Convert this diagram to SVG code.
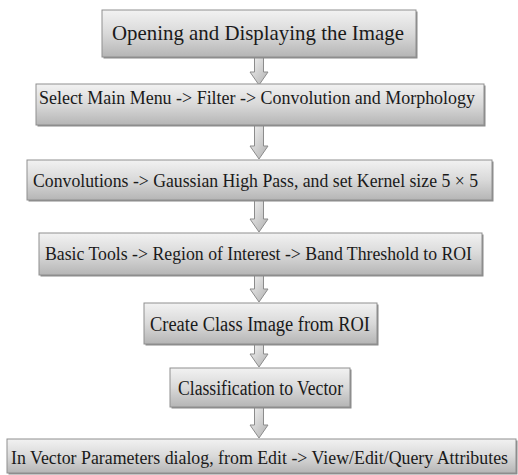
<svg xmlns="http://www.w3.org/2000/svg" width="518" height="475" viewBox="0 0 518 475">
<defs>
<linearGradient id="boxg" x1="0" y1="0" x2="0" y2="1">
<stop offset="0" stop-color="#f2f2f2"/>
<stop offset="0.5" stop-color="#d9d9d9"/>
<stop offset="1" stop-color="#b5b5b5"/>
</linearGradient>
<linearGradient id="arrg" x1="0" y1="0" x2="1" y2="1">
<stop offset="0" stop-color="#f4f4f4"/>
<stop offset="1" stop-color="#b0b0b0"/>
</linearGradient>
</defs>
<style>
.box{fill:url(#boxg);stroke:#8f8f8f;stroke-width:1}
.sh{fill:#8a8a8a}
.arr{fill:url(#arrg);stroke:#8c8c8c;stroke-width:1;stroke-linejoin:miter}
text{font-family:"Liberation Serif","Times New Roman",serif;fill:#1a1a1a;text-anchor:middle}
</style>
<rect width="518" height="475" fill="#ffffff"/>
<g id="connectors">
<path class="arr" d="M254.5,57 H263.5 V72 H268 L259,85 L250,72 H254.5 Z"/>
<path class="arr" d="M254.5,125 H263.5 V146 H268 L259,159 L250,146 H254.5 Z"/>
<path class="arr" d="M254.5,200 H263.5 V219 H268 L259,232 L250,219 H254.5 Z"/>
<path class="arr" d="M254.5,275 H263.5 V289 H268 L259,302 L250,289 H254.5 Z"/>
<path class="arr" d="M254.5,344 H263.5 V354 H268 L259,367 L250,354 H254.5 Z"/>
<path class="arr" d="M254.5,407 H263.5 V425 H268 L259,438 L250,425 H254.5 Z"/>
</g>
<g id="n1">
<rect class="sh" x="103.5" y="11.5" width="314" height="47"/>
<rect class="box" x="102" y="10" width="314" height="47"/>
<text x="258" y="40" font-size="22" textLength="292" lengthAdjust="spacingAndGlyphs">Opening and Displaying the Image</text>
</g>
<g id="n2">
<rect class="sh" x="37.5" y="85.5" width="448" height="41"/>
<rect class="box" x="36" y="84" width="448" height="41"/>
<text x="257" y="104" font-size="19" textLength="436" lengthAdjust="spacingAndGlyphs">Select Main Menu -&gt; Filter -&gt; Convolution and Morphology</text>
</g>
<g id="n3">
<rect class="sh" x="28.5" y="161.5" width="465" height="40"/>
<rect class="box" x="27" y="160" width="465" height="40"/>
<text x="255.5" y="187" font-size="19.2" textLength="445" lengthAdjust="spacingAndGlyphs">Convolutions -&gt; Gaussian High Pass, and set Kernel size 5 × 5</text>
</g>
<g id="n4">
<rect class="sh" x="40.5" y="234.5" width="443" height="42"/>
<rect class="box" x="39" y="233" width="443" height="42"/>
<text x="258.5" y="260" font-size="19.5" textLength="427" lengthAdjust="spacingAndGlyphs">Basic Tools -&gt; Region of Interest -&gt; Band Threshold to ROI</text>
</g>
<g id="n5">
<rect class="sh" x="145.5" y="304.5" width="233" height="41"/>
<rect class="box" x="144" y="303" width="233" height="41"/>
<text x="260" y="330.5" font-size="20" textLength="220" lengthAdjust="spacingAndGlyphs">Create Class Image from ROI</text>
</g>
<g id="n6">
<rect class="sh" x="171.5" y="369.5" width="180" height="39"/>
<rect class="box" x="170" y="368" width="180" height="39"/>
<text x="260.5" y="395" font-size="20" textLength="165" lengthAdjust="spacingAndGlyphs">Classification to Vector</text>
</g>
<g id="n7">
<rect class="sh" x="8.5" y="440.5" width="509" height="34"/>
<rect class="box" x="7" y="439" width="509" height="34"/>
<text x="259.5" y="464" font-size="18" textLength="497" lengthAdjust="spacingAndGlyphs">In Vector Parameters dialog, from Edit -&gt; View/Edit/Query Attributes</text>
</g>
</svg>
